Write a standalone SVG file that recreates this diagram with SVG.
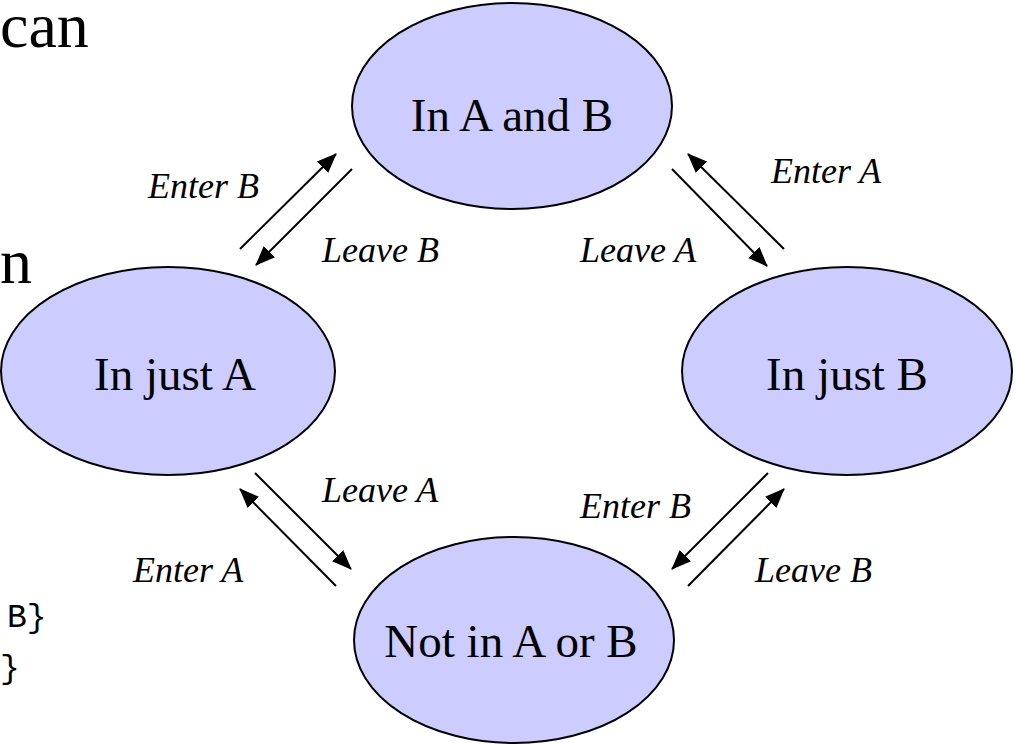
<svg xmlns="http://www.w3.org/2000/svg" width="1017" height="745" viewBox="0 0 1017 745">
<style>
.node{fill:#ccccff;stroke:#000;stroke-width:2}
.ed{stroke:#000;stroke-width:2;fill:none}
.sf{font-family:"Times New Roman","Liberation Serif",Tinos,serif;fill:#000}
.mono{font-family:"Courier New","Liberation Mono",monospace;font-size:33px;fill:#000}
.lb{font-size:36px;font-style:italic}
.nt{font-size:47px;text-anchor:middle}
</style>
<defs>
<marker id="ah" markerUnits="userSpaceOnUse" markerWidth="20" markerHeight="16" refX="19" refY="8" orient="auto">
<path d="M0,0 L20,8 L0,16 Z" fill="#000"/>
</marker>
</defs>
<rect width="1017" height="745" fill="#fff"/>
<text class="sf" x="0" y="47" font-size="64">can</text>
<text class="sf" x="0" y="283" font-size="64">n</text>
<text class="mono" x="7" y="627">B}</text>
<text class="mono" x="0" y="678">}</text>
<g id="connectors">
<line class="ed" marker-end="url(#ah)" x1="240" y1="249" x2="336" y2="154"/>
<line class="ed" marker-end="url(#ah)" x1="352" y1="169" x2="256" y2="265"/>
<line class="ed" marker-end="url(#ah)" x1="784" y1="249" x2="688" y2="154"/>
<line class="ed" marker-end="url(#ah)" x1="672" y1="169" x2="767" y2="266"/>
<line class="ed" marker-end="url(#ah)" x1="255" y1="473" x2="351" y2="569"/>
<line class="ed" marker-end="url(#ah)" x1="336" y1="586" x2="240" y2="489"/>
<line class="ed" marker-end="url(#ah)" x1="768" y1="473" x2="672" y2="569"/>
<line class="ed" marker-end="url(#ah)" x1="688" y1="586" x2="784" y2="489"/>
<text class="sf lb" x="148" y="198">Enter B</text>
<text class="sf lb" x="322" y="262">Leave B</text>
<text class="sf lb" x="771" y="183">Enter A</text>
<text class="sf lb" x="580" y="262">Leave A</text>
<text class="sf lb" x="322" y="502">Leave A</text>
<text class="sf lb" x="133" y="582">Enter A</text>
<text class="sf lb" x="580" y="518">Enter B</text>
<text class="sf lb" x="755" y="582">Leave B</text>
</g>
<g id="n-ab"><ellipse class="node" cx="512" cy="106" rx="160" ry="103"/><text class="sf nt" x="512" y="131">In A and B</text></g>
<g id="n-a"><ellipse class="node" cx="168" cy="371" rx="167" ry="104"/><text class="sf nt" x="175" y="390">In just A</text></g>
<g id="n-b"><ellipse class="node" cx="847" cy="371" rx="165" ry="104"/><text class="sf nt" x="847" y="390">In just B</text></g>
<g id="n-none"><ellipse class="node" cx="514" cy="640" rx="160" ry="103"/><text class="sf nt" x="511" y="657">Not in A or B</text></g>
</svg>
